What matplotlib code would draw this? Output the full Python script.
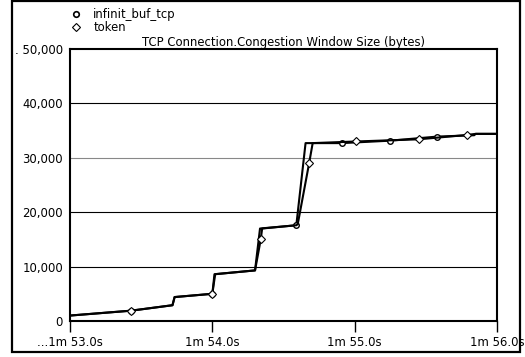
import matplotlib
matplotlib.use("Agg")
import matplotlib.pyplot as plt
from matplotlib.patches import Rectangle
from matplotlib.lines import Line2D

plt.rcParams['font.family'] = ['DejaVu Sans']

# infinit_buf_tcp series (time in s after 1m, window in bytes)
t_inf = [53.0, 53.43, 53.72, 53.735, 54.0, 54.015, 54.30, 54.335, 54.59, 54.655,
         54.91, 55.25, 55.58, 55.84, 55.85, 56.0]
v_inf = [1000, 1900, 2900, 4400, 5000, 8600, 9300, 17000, 17600, 32700,
         32700, 33150, 33900, 34150, 34400, 34400]
mk_inf = [1, 4, 8, 10, 11, 12]

# token series
t_tok = [53.0, 53.43, 53.72, 53.735, 54.0, 54.02, 54.30, 54.34, 54.35, 54.59,
         54.60, 54.68, 54.705, 55.01, 55.45, 55.79, 55.85, 56.0]
v_tok = [1000, 1900, 2900, 4400, 5000, 8600, 9300, 15000, 17000, 17600,
         17800, 29000, 32700, 33000, 33400, 34200, 34400, 34400]
mk_tok = [1, 4, 7, 11, 13, 14, 15]

yticks = [0, 10000, 20000, 30000, 40000, 50000]
ylabels = ["0", "10,000", "20,000", "30,000", "40,000", ". 50,000"]
xticks = [53.0, 54.0, 55.0, 56.0]
xlabels = ["...1m 53.0s", "1m 54.0s", "1m 55.0s", "1m 56.0s"]

FS = 8.4

fig = plt.figure(figsize=(5.25, 3.57), dpi=100)
ax = fig.add_axes([70/525, 1-321/357, 427/525, 272/357])

for y in yticks[1:-1]:
    ax.axhline(y, color='#888888' if y == 30000 else 'black', lw=0.8, zorder=1)

ax.plot(t_inf, v_inf, color='black', lw=1.5, marker='o', markevery=mk_inf,
        markersize=4, markerfacecolor='white', markeredgecolor='black',
        markeredgewidth=1.0, zorder=3)
ax.plot(t_tok, v_tok, color='black', lw=1.5, marker='D', markevery=mk_tok,
        markersize=4, markerfacecolor='white', markeredgecolor='black',
        markeredgewidth=0.8, zorder=3)

ax.set_xlim(53.0, 56.0)
ax.set_ylim(0, 50000)
ax.set_yticks(yticks)
ax.set_yticklabels(ylabels)
ax.set_xticks(xticks)
ax.set_xticklabels(xlabels)
ax.tick_params(axis='x', direction='out', length=8, width=1, pad=3,
               labelsize=FS, color='black')
ax.tick_params(axis='y', length=0, pad=5, labelsize=FS)
for s in ax.spines.values():
    s.set_linewidth(1.5)
    s.set_color('black')

ax.set_title("TCP Connection.Congestion Window Size (bytes)", fontsize=FS,
             pad=2)

handles = [Line2D([], [], ls='none', marker='o', markersize=4,
                  markerfacecolor='white', markeredgecolor='black',
                  markeredgewidth=1.2),
           Line2D([], [], ls='none', marker='D', markersize=4,
                  markerfacecolor='white', markeredgecolor='black',
                  markeredgewidth=0.8)]
fig.legend(handles, ["infinit_buf_tcp", "token"], loc='upper left',
           bbox_to_anchor=(63/525, 1 - 2/357), frameon=False, fontsize=FS,
           handlelength=1.2, handletextpad=0.9, labelspacing=0.05,
           borderpad=0.0)

fig.patches.append(Rectangle((12/525, 5/357), 508/525, 351/357,
                             transform=fig.transFigure, fill=False,
                             edgecolor='black', lw=1.6, zorder=10))

fig.savefig("out.png", dpi=100)
